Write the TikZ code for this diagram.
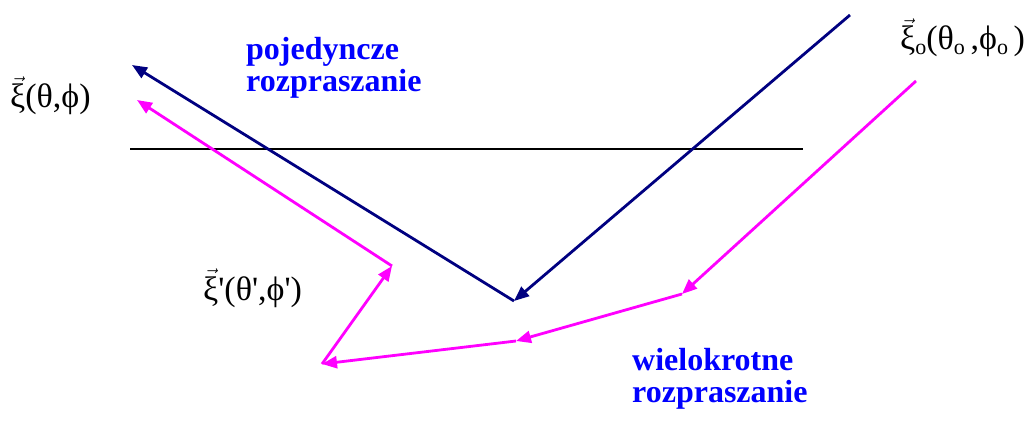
\documentclass[tikz,border=0pt]{standalone}
\usepackage{fontspec}
\setmainfont{Liberation Serif}
\usetikzlibrary{arrows.meta}
\definecolor{navyc}{RGB}{0,0,128}
\definecolor{magc}{RGB}{255,0,255}
\definecolor{bluec}{RGB}{0,0,255}
\newcommand{\vxi}{\ensuremath{\vec{\hbox{ξ}}}}
\newcommand{\pr}{\textquotesingle}
\newcommand{\sbo}{\raisebox{-0.3ex}{\fontsize{22}{22}\selectfont o}}
\begin{document}
\begin{tikzpicture}[x=1pt,y=-1pt,
  ray/.style={line width=2.8pt,-{Triangle[length=15pt,width=12pt]}},
  navyray/.style={ray,draw=navyc},
  magray/.style={ray,draw=magc},
  caption/.style={text=bluec,font=\fontsize{32}{32}\selectfont\bfseries,align=left,inner sep=0pt},
  sym/.style={font=\fontsize{34}{36}\selectfont,inner sep=0pt}]
\useasboundingbox (0,0) rectangle (1032,425);
% surface
\coordinate (sl) at (130,149);
\coordinate (sr) at (803,149);
\draw[line width=1.2pt] (sl) -- (sr);
% single scattering
\coordinate (n0) at (850,15);
\coordinate (n1) at (514,301);
\coordinate (n2) at (132,65);
\draw[navyray] (n0) -- (n1);
\draw[navyray] (n1) -- (n2);
% multiple scattering
\coordinate (m0) at (916,81);
\coordinate (m1) at (682,294);
\coordinate (m2) at (516,341);
\coordinate (m3) at (322,364);
\coordinate (m4) at (392,266);
\coordinate (m5) at (137,100);
\draw[magray] (m0) -- (m1);
\draw[magray] (m1) -- (m2);
\draw[magray] (m2) -- (m3);
\draw[magray] (m3) -- (m4);
\draw[magray] (m4) -- (m5);
% captions
\node[caption,anchor=base west] (single) at (246,92) {pojedyncze\\rozpraszanie};
\node[caption,anchor=base west] (multi) at (632,402) {wielokrotne\\rozpraszanie};
% labels
\node[sym,anchor=base west] (xi) at (10,108) {\vxi(θ,ϕ)};
\node[sym,anchor=base west] (xio) at (900,50) {\vxi\sbo(θ\sbo\,,ϕ\sbo\,)};
\node[sym,anchor=base west] (xip) at (203,300) {\vxi\pr(θ\pr,ϕ\pr)};
\end{tikzpicture}
\end{document}
